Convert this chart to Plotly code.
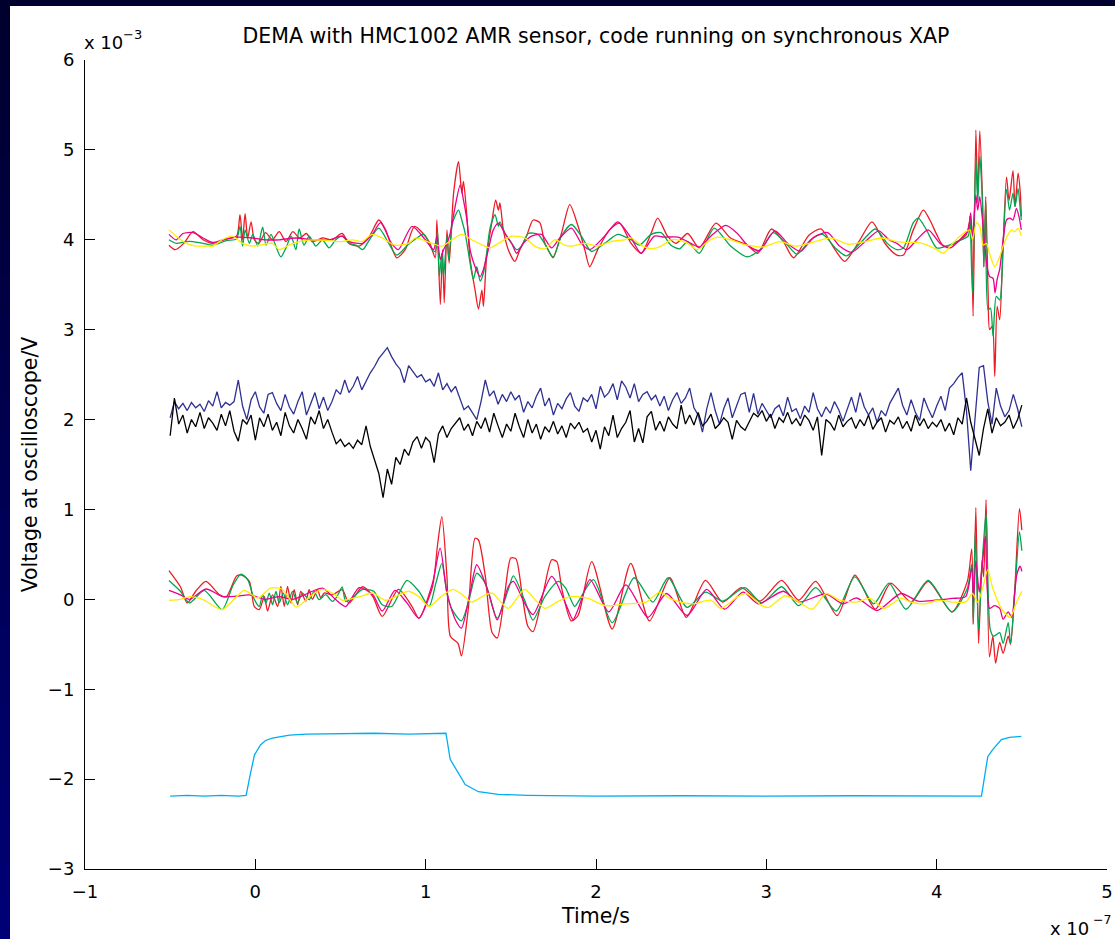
import plotly.graph_objects as go

# ---------------- data (x in units of 1e-7 s, y in units of 1e-3 V) ----------------
noise_time = [round(-0.5 + 0.025 * i, 3) for i in range(201)]

blue_vals = [
    2.02, 2.20, 2.12, 2.18, 2.10, 2.19, 2.13, 2.17, 2.09, 2.21,
    2.15, 2.31, 2.13, 2.19, 2.16, 2.20, 2.44, 2.15, 2.00, 2.22,
    2.31, 2.14, 2.07, 2.28, 2.30, 2.18, 2.10, 2.28, 2.14, 2.06,
    2.20, 2.31, 2.05, 2.17, 2.30, 2.12, 2.25, 2.10, 2.20, 2.33,
    2.28, 2.44, 2.30, 2.37, 2.48, 2.33, 2.42, 2.52, 2.59, 2.68,
    2.74, 2.80, 2.70, 2.62, 2.56, 2.41, 2.60, 2.53, 2.47, 2.50,
    2.42, 2.45, 2.37, 2.52, 2.33, 2.40, 2.31, 2.37, 2.24, 2.11,
    2.15, 2.08, 2.00, 2.20, 2.44, 2.26, 2.32, 2.17, 2.28, 2.20,
    2.31, 2.22, 2.27, 2.08, 2.20, 2.13, 2.26, 2.35, 2.15, 2.24,
    2.05, 2.18, 2.12, 2.23, 2.30, 2.15, 2.09, 2.24, 2.20, 2.28,
    2.12, 2.37, 2.25, 2.30, 2.40, 2.22, 2.43, 2.36, 2.24, 2.40,
    2.20, 2.28, 2.31, 2.22, 2.27, 2.15, 2.26, 2.10, 2.22, 2.30,
    2.18, 2.24, 2.35, 2.13, 2.05, 1.86, 2.12, 2.30, 2.10, 1.95,
    2.12, 2.24, 2.02, 2.15, 2.28, 2.30, 2.08, 2.29, 2.06, 2.18,
    2.10, 2.02, 2.12, 2.16, 2.04, 2.25, 2.09, 2.12, 2.01, 2.15,
    2.08, 2.30, 2.12, 2.03, 2.14, 2.07, 2.20, 2.11, 1.98, 2.12,
    2.25, 2.08, 2.30, 2.14, 2.05, 2.13, 1.97, 2.10, 2.04, 2.18,
    2.27, 2.35, 2.16, 2.05, 2.22, 2.08, 1.99, 2.24, 2.12, 2.02,
    2.15, 2.26, 2.10, 2.35, 2.40, 2.47, 2.52, 2.10, 1.43, 2.00,
    2.58, 2.60, 2.20, 1.95, 2.35, 2.15, 2.03, 2.10, 2.28, 2.12,
    1.92,
]

black_vals = [
    1.82, 2.24, 1.95, 2.05, 1.85, 2.00, 1.92, 2.08, 1.90, 2.02,
    1.96, 1.88, 2.06, 1.93, 2.10, 1.87, 1.76, 2.00, 1.95, 2.05,
    1.77, 2.02, 1.92, 2.06, 1.88, 1.97, 1.82, 2.08, 1.93, 1.85,
    2.00, 1.90, 1.78, 2.03, 1.95, 2.10, 1.90, 2.00, 1.86, 1.73,
    1.78, 1.70, 1.74, 1.68, 1.77, 1.72, 1.93, 1.70, 1.55, 1.40,
    1.13, 1.45, 1.28, 1.58, 1.50, 1.67, 1.60, 1.75, 1.81, 1.68,
    1.80, 1.75, 1.52, 1.84, 1.93, 1.80, 1.90, 1.96, 2.02, 1.88,
    1.95, 1.82, 1.98, 1.90, 2.02, 1.86, 2.07, 1.93, 1.80, 1.95,
    1.87, 2.07, 1.92, 1.80, 2.00, 1.85, 1.95, 1.78, 1.92, 1.86,
    1.98, 1.84, 1.93, 1.80, 1.96, 1.90, 1.97, 1.86, 1.90, 1.75,
    1.88, 1.67, 1.92, 1.82, 2.05, 1.80, 1.90, 1.97, 2.10, 1.75,
    1.90, 1.74, 2.03, 2.09, 1.88, 1.98, 1.87, 2.03, 1.95, 1.90,
    2.16, 1.95, 2.05, 1.94, 2.08, 1.93, 1.98, 2.06, 1.90, 1.95,
    2.02, 1.97, 1.78, 1.99, 1.92, 1.88, 1.97, 2.07, 2.03, 2.10,
    1.98, 2.06, 1.90, 2.02, 1.97, 2.08, 1.95, 2.01, 1.93, 2.05,
    1.99, 1.88, 2.03, 1.60, 2.00, 1.96, 1.88, 2.05, 1.92, 1.98,
    2.02, 1.90, 2.00, 1.93, 2.05, 1.89, 1.97, 2.02, 1.86, 1.99,
    1.95, 2.03, 1.90, 1.98, 1.87, 2.05, 1.93, 2.01, 1.90, 1.97,
    1.92, 2.00, 1.87, 1.96, 1.83, 2.02, 1.95, 2.24, 1.97, 1.80,
    1.60, 1.90, 2.12, 1.85, 2.02, 1.93, 1.97, 2.05, 1.90, 2.00,
    2.16,
]

cyan_time = [-0.5, -0.4, -0.3, -0.2, -0.1, -0.054, -0.03, -0.005, 0.03, 0.06, 0.1, 0.15,
             0.2, 0.3, 0.5, 0.7, 0.9, 1.05, 1.119, 1.144, 1.18, 1.232, 1.31, 1.427, 1.6,
             2.0, 2.5, 3.0, 3.5, 4.0, 4.2, 4.263, 4.30, 4.33, 4.38, 4.427, 4.497]
cyan_vals = [-2.19, -2.18, -2.19, -2.18, -2.19, -2.18, -1.95, -1.73, -1.62, -1.57, -1.545, -1.525,
             -1.51, -1.5, -1.495, -1.49, -1.5, -1.49, -1.49, -1.78, -1.9, -2.06, -2.14, -2.17, -2.18,
             -2.19, -2.185, -2.19, -2.185, -2.19, -2.185, -2.19, -1.75, -1.67, -1.56, -1.535, -1.525]

# lower group (around 0)
low_red_time = [-0.507, -0.44, -0.40, -0.35, -0.29, -0.21, -0.17, -0.11, -0.08, -0.035,
                -0.006, 0.023, 0.053, 0.072, 0.101, 0.131, 0.15, 0.17, 0.189, 0.209,
                0.228, 0.248, 0.267, 0.296, 0.316, 0.335, 0.365, 0.384, 0.404, 0.452,
                0.51, 0.55, 0.63, 0.69, 0.745, 0.84, 0.92, 0.96,
                1.04, 1.07, 1.095, 1.125, 1.145, 1.19, 1.21, 1.25, 1.29, 1.31, 1.35, 1.39, 1.42,
                1.465, 1.50, 1.53, 1.565, 1.60, 1.63, 1.69, 1.74, 1.77, 1.80, 1.855, 1.895, 1.975,
                2.095, 2.204, 2.314, 2.434, 2.53, 2.643, 2.743, 2.853, 2.963, 3.09, 3.19, 3.29, 3.416,
                3.52, 3.64, 3.73, 3.85, 3.95, 4.09, 4.18, 4.206, 4.214, 4.23, 4.246, 4.266, 4.276,
                4.29, 4.31, 4.33, 4.346, 4.37, 4.39, 4.42, 4.434, 4.46, 4.486, 4.5]
low_red_vals = [0.32, 0.14, -0.04, 0.09, 0.20, 0.05, 0.03, 0.26, 0.27, 0.20,
                -0.08, -0.115, 0.03, -0.13, 0.05, -0.08, 0.144, -0.078, 0.144, -0.04,
                0.107, -0.06, 0.089, -0.02, 0.107, 0.0, 0.107, 0.015, 0.07, 0.05,
                0.107, -0.04, 0.14, 0.03, -0.19, 0.11, -0.08, -0.21,
                0.14, 0.61, 0.92, 0.25, -0.41, -0.49, -0.63, -0.11, 0.68, 0.66, 0.26, -0.37, -0.43,
                0.07, 0.46, 0.45, 0.07, -0.30, -0.36, 0.07, 0.44, 0.42, 0.11, -0.24, -0.18, 0.42,
                -0.33, 0.40, -0.24, 0.24, -0.20, 0.21, -0.03, 0.13, -0.02, 0.21, -0.01, 0.20, -0.18,
                0.27, -0.11, 0.18, -0.03, 0.20, -0.14, 0.20, 0.56, -0.28, 1.02, -0.49, 0.43, 0.25,
                1.11, -0.64, -0.41, -0.71, -0.48, -0.60, -0.41, -0.50, 0.16, 1.01, 0.77]

low_green_time = [-0.507, -0.44, -0.386, -0.30, -0.195, -0.13, -0.084, -0.045, -0.006, 0.023,
                  0.043, 0.062, 0.082, 0.101, 0.121, 0.14, 0.164, 0.189, 0.218, 0.248,
                  0.277, 0.316, 0.345, 0.374, 0.413, 0.452, 0.48, 0.51, 0.53, 0.569,
                  0.63, 0.695, 0.745, 0.80, 0.89, 0.96, 1.02,
                  1.06, 1.095, 1.125, 1.155, 1.21, 1.25, 1.30, 1.35, 1.42, 1.485, 1.515, 1.58, 1.63,
                  1.70, 1.78, 1.82, 1.875, 1.895, 1.985, 2.095, 2.224, 2.334, 2.424, 2.534, 2.643,
                  2.743, 2.873, 2.973, 3.09, 3.19, 3.29, 3.41, 3.52, 3.63, 3.72, 3.82, 3.95, 4.09, 4.18,
                  4.206, 4.216, 4.226, 4.246, 4.266, 4.29, 4.314, 4.334, 4.37, 4.39, 4.42, 4.434, 4.46,
                  4.486, 4.5]
low_green_vals = [0.21, 0.09, -0.04, 0.10, -0.115, 0.16, 0.28, 0.22, 0.0, -0.078,
                  0.052, -0.04, 0.07, -0.06, 0.089, -0.04, 0.07, -0.06, 0.089, -0.04,
                  0.07, -0.004, 0.089, -0.004, 0.052, -0.022, 0.033, 0.137, -0.022, 0.015,
                  0.11, 0.09, -0.06, -0.08, 0.21, 0.09, -0.08,
                  0.18, 0.40, 0.07, -0.115, -0.24, -0.04, 0.29, 0.18, -0.21, 0.11, 0.26, -0.005, -0.23,
                  0.03, 0.20, 0.13, -0.08, -0.03, 0.22, -0.26, 0.24, -0.03, 0.24, -0.09, 0.08,
                  -0.02, 0.13, -0.04, 0.14, -0.07, 0.13, -0.13, 0.25, -0.05, 0.18, -0.11, 0.21, -0.14, 0.12,
                  0.39, -0.26, 0.75, -0.33, 0.37, 0.96, -0.33, -0.41, -0.37, -0.49, -0.26, -0.49, 0.12,
                  0.75, 0.54]

low_magenta_time = [-0.507, -0.44, -0.386, -0.29, -0.19, -0.11, -0.035, 0.06, 0.14, 0.22, 0.335, 0.395,
                    0.47, 0.53, 0.61, 0.69, 0.745, 0.82, 0.89, 0.96, 1.04, 1.085, 1.125, 1.175, 1.21,
                    1.26, 1.30, 1.37, 1.42, 1.485, 1.515, 1.58, 1.63, 1.74, 1.82, 1.865, 1.895, 1.965,
                    2.075, 2.175, 2.305, 2.414, 2.534, 2.65, 2.755, 2.863, 2.953, 3.10, 3.19, 3.35, 3.45,
                    3.53, 3.65, 3.79, 3.89, 3.99, 4.09, 4.17, 4.206, 4.216, 4.23, 4.25, 4.266, 4.286,
                    4.31, 4.34, 4.37, 4.39, 4.42, 4.44, 4.47, 4.49, 4.5]
low_magenta_vals = [0.10, 0.05, 0.0, 0.115, 0.03, 0.035, 0.05, 0.0, 0.03, 0.0, 0.09, 0.125,
                    0.0, -0.08, 0.13, 0.05, -0.13, 0.10, -0.04, -0.21, 0.18, 0.57, 0.07, -0.23, -0.32,
                    0.07, 0.385, 0.07, -0.23, 0.14, 0.20, -0.04, -0.17, 0.255, -0.04, -0.225, -0.11, 0.22,
                    -0.14, 0.16, -0.20, 0.065, -0.18, 0.11, -0.11, 0.08, -0.05, 0.09, -0.03, 0.06, -0.05,
                    0.015, -0.125, 0.065, -0.02, -0.01, 0.01, 0.03, 0.35, -0.03, 0.43, 0.08, 0.35, 0.70,
                    -0.10, -0.07, -0.10, -0.22, -0.14, -0.20, 0.27, 0.37, 0.31]

low_yellow_time = [-0.507, -0.44, -0.386, -0.31, -0.195, -0.11, -0.064, 0.015, 0.09, 0.16, 0.24, 0.32,
                   0.39, 0.47, 0.51, 0.61, 0.69, 0.765, 0.90, 0.96, 1.02, 1.09, 1.16, 1.21, 1.27, 1.34,
                   1.39, 1.485, 1.58, 1.65, 1.70, 1.78, 1.855, 1.895, 1.955, 2.055, 2.175, 2.295, 2.374,
                   2.434, 2.494, 2.574, 2.673, 2.733, 2.833, 2.883, 2.973, 3.013, 3.11, 3.172, 3.27, 3.35,
                   3.43, 3.53, 3.61, 3.69, 3.79, 3.85, 3.93, 4.01, 4.09, 4.17, 4.21, 4.24, 4.27, 4.30,
                   4.33, 4.38, 4.43, 4.47, 4.5]
low_yellow_vals = [-0.01, 0.0, 0.03, 0.0, -0.115, 0.03, 0.10, 0.015, 0.125, 0.11, -0.085, 0.03,
                   0.11, 0.05, -0.01, 0.03, 0.07, -0.01, 0.09, 0.03, -0.08, 0.03, 0.11, 0.06, -0.03, 0.04,
                   0.07, -0.10, 0.11, -0.02, -0.10, -0.02, 0.03, 0.03, 0.01, -0.07, -0.05, -0.03, 0.08,
                   0.01, -0.03, -0.05, -0.01, -0.10, 0.03, 0.065, -0.07, -0.09, 0.04, -0.01, -0.11, 0.065,
                   -0.01, -0.03, 0.01, -0.10, 0.01, -0.03, -0.05, -0.01, -0.03, -0.03, 0.065, -0.03, 0.12, 0.33,
                   0.12, -0.10, -0.20, -0.03, 0.09]

# upper group (around 4)
up_red_time = [-0.507, -0.47, -0.42, -0.366, -0.307, -0.25, -0.17, -0.11, -0.09, -0.075, -0.06, -0.045,
               -0.025, -0.006, 0.02, 0.06, 0.10, 0.14, 0.18, 0.22, 0.26, 0.30, 0.335, 0.395, 0.45, 0.51,
               0.55, 0.61, 0.67, 0.725, 0.765, 0.83, 0.88, 0.935, 1.02, 1.056, 1.066, 1.086, 1.099,
               1.109, 1.125, 1.138, 1.164, 1.193, 1.212, 1.222, 1.242, 1.261, 1.29, 1.31, 1.33, 1.339,
               1.358, 1.388, 1.411, 1.427, 1.436, 1.456, 1.485, 1.524, 1.553, 1.592, 1.631, 1.67, 1.70,
               1.748, 1.797, 1.846, 1.895, 1.934, 1.963, 2.01, 2.08, 2.138, 2.206, 2.265, 2.323, 2.362,
               2.42, 2.47, 2.538, 2.606, 2.704, 2.79, 2.889, 2.95, 3.03, 3.10, 3.16, 3.25, 3.32, 3.40,
               3.46, 3.55, 3.62, 3.70, 3.766, 3.805, 3.863, 3.922, 3.96, 4.0, 4.04, 4.1, 4.175, 4.195,
               4.205, 4.214, 4.23, 4.241, 4.253, 4.269, 4.277, 4.288, 4.302, 4.311, 4.327, 4.341, 4.355,
               4.37, 4.386, 4.41, 4.425, 4.448, 4.46, 4.478, 4.491, 4.497]
up_red_vals = [3.94, 3.89, 3.96, 4.09, 4.0, 3.96, 4.01, 4.04, 4.28, 4.0, 4.29, 4.02,
               4.2, 4.0, 3.96, 4.08, 4.0, 4.09, 3.98, 4.09, 4.02, 4.07, 3.98, 4.02, 4.0, 4.07,
               3.96, 3.93, 4.04, 4.22, 4.11, 3.80, 3.89, 4.15, 3.98, 3.80, 4.22, 3.28, 3.89,
               3.30, 4.11, 3.74, 4.52, 4.87, 4.52, 4.65, 4.26, 3.78, 3.44, 3.23, 3.44, 3.26,
               3.81, 4.19, 4.44, 4.33, 4.41, 4.11, 3.89, 3.76, 3.89, 4.04, 4.22, 4.19, 3.96,
               3.81, 4.07, 4.39, 4.15, 3.89, 3.70, 3.89, 4.11, 4.185, 3.96, 3.85, 4.07, 4.24,
               4.04, 3.96, 4.07, 3.91, 4.185, 4.02, 3.94, 3.85, 4.12, 3.98, 3.80, 4.05, 4.12, 3.90,
               3.76, 4.0, 4.20, 3.95, 3.83, 3.83, 4.11, 4.33, 4.22, 4.06, 3.93, 3.95, 4.06, 4.22,
               4.0, 3.15, 5.22, 4.48, 5.21, 4.44, 3.70, 4.48, 3.41, 3.0, 3.04, 2.48, 3.26,
               3.11, 3.74, 4.70, 4.44, 4.77, 4.37, 4.74, 4.52, 4.26]

up_green_time = [-0.507, -0.465, -0.405, -0.366, -0.307, -0.25, -0.17, -0.11, -0.09, -0.075, -0.06, -0.035,
                 -0.015, 0.014, 0.043, 0.063, 0.092, 0.12, 0.15, 0.18, 0.21, 0.238, 0.257, 0.286, 0.316,
                 0.355, 0.394, 0.433, 0.472, 0.51, 0.55, 0.59, 0.63, 0.67, 0.725, 0.783, 0.83, 0.90,
                 0.99, 1.037, 1.056, 1.07, 1.08, 1.095, 1.105, 1.125, 1.135, 1.158, 1.193, 1.212, 1.232,
                 1.261, 1.28, 1.30, 1.32, 1.339, 1.358, 1.378, 1.407, 1.427, 1.436, 1.466, 1.505, 1.534,
                 1.563, 1.602, 1.66, 1.719, 1.748, 1.797, 1.856, 1.914, 1.973, 2.05, 2.128, 2.206, 2.255,
                 2.323, 2.382, 2.44, 2.49, 2.538, 2.606, 2.694, 2.79, 2.889, 2.97, 3.04, 3.12, 3.18, 3.26,
                 3.33, 3.41, 3.47, 3.56, 3.64, 3.71, 3.766, 3.805, 3.863, 3.893, 3.94, 4.0, 4.06, 4.117,
                 4.185, 4.195, 4.21, 4.23, 4.241, 4.253, 4.269, 4.277, 4.288, 4.302, 4.316, 4.331, 4.35,
                 4.37, 4.39, 4.41, 4.428, 4.448, 4.46, 4.478, 4.491, 4.497]
up_green_vals = [4.0, 3.96, 3.98, 3.98, 3.96, 3.94, 3.99, 4.01, 4.15, 3.93, 4.11, 3.96,
                 4.06, 3.93, 4.14, 3.94, 4.06, 3.93, 3.81, 3.91, 4.04, 3.89, 4.12, 3.94, 4.04,
                 3.93, 4.0, 3.91, 4.0, 4.04, 3.96, 3.94, 3.89, 4.0, 4.13, 3.96, 3.83, 3.95,
                 4.06, 3.89, 3.87, 4.09, 3.59, 3.85, 3.59, 4.04, 3.78, 4.19, 4.33, 4.22, 4.07,
                 3.74, 3.56, 3.70, 3.54, 3.63, 3.85, 4.13, 4.28, 4.15, 4.20, 4.07, 3.96, 3.89,
                 3.93, 4.07, 4.06, 3.89, 3.80, 4.04, 4.17, 4.04, 3.87, 3.96, 4.06, 4.0, 3.94,
                 4.06, 4.08, 3.94, 3.90, 3.98, 3.85, 4.13, 3.93, 3.81, 3.90, 4.08, 3.95, 3.84, 4.0,
                 4.06, 3.90, 3.82, 3.98, 4.12, 3.96, 3.89, 3.91, 4.19, 4.24, 4.11, 3.91, 3.93, 3.98,
                 4.04, 4.26, 3.41, 4.91, 4.41, 4.93, 4.41, 3.70, 4.41, 3.22, 3.24, 2.93, 3.37,
                 3.33, 3.93, 4.56, 4.33, 4.52, 4.37, 4.57, 4.33, 4.22]

up_magenta_time = [-0.507, -0.465, -0.425, -0.366, -0.307, -0.25, -0.19, -0.11, -0.016, 0.06, 0.14, 0.237,
                   0.335, 0.433, 0.51, 0.55, 0.63, 0.69, 0.735, 0.80, 0.84, 0.92, 0.998, 1.047, 1.066,
                   1.086, 1.105, 1.125, 1.144, 1.173, 1.203, 1.222, 1.242, 1.261, 1.29, 1.32, 1.339,
                   1.368, 1.397, 1.427, 1.466, 1.505, 1.534, 1.573, 1.622, 1.68, 1.739, 1.787, 1.856,
                   1.914, 1.963, 2.05, 2.128, 2.206, 2.265, 2.343, 2.40, 2.48, 2.538, 2.606, 2.674, 2.762,
                   2.83, 2.889, 2.96, 3.05, 3.13, 3.20, 3.28, 3.36, 3.43, 3.50, 3.58, 3.66, 3.72, 3.766,
                   3.825, 3.883, 3.95, 4.02, 4.08, 4.136, 4.185, 4.20, 4.21, 4.23, 4.241, 4.253, 4.269,
                   4.283, 4.296, 4.311, 4.331, 4.343, 4.355, 4.37, 4.39, 4.41, 4.43, 4.448, 4.468, 4.483,
                   4.497]
up_magenta_vals = [4.06, 4.0, 4.07, 4.08, 4.02, 3.97, 4.0, 4.03, 4.02, 4.0, 4.0, 4.02,
                   4.0, 4.0, 4.04, 3.98, 3.96, 4.07, 4.19, 3.96, 3.89, 4.15, 4.0, 3.89, 4.04,
                   3.78, 3.89, 3.96, 4.07, 4.37, 4.61, 4.44, 4.22, 3.89, 3.70, 3.59, 3.67,
                   3.89, 4.11, 4.185, 4.07, 3.96, 3.85, 3.96, 4.04, 4.06, 3.91, 4.02, 4.13,
                   3.96, 3.89, 4.04, 4.20, 4.02, 3.85, 4.04, 4.03, 4.03, 3.98, 3.92, 4.04, 4.16,
                   4.07, 3.94, 3.88, 4.10, 3.95, 3.87, 4.03, 4.08, 3.93, 3.86, 3.98, 4.10, 4.0, 3.96,
                   3.89, 4.0, 4.11, 3.96, 3.91, 4.0, 4.11, 4.30, 4.0, 4.50, 4.33, 4.48, 4.22,
                   3.93, 3.70, 3.59, 3.57, 3.41, 3.56, 3.67, 4.0, 4.22, 4.24, 4.22, 4.35, 4.26,
                   4.11]

up_yellow_time = [-0.507, -0.465, -0.405, -0.347, -0.29, -0.25, -0.195, -0.135, -0.075, -0.016, 0.023, 0.10,
                  0.14, 0.198, 0.257, 0.335, 0.433, 0.51, 0.57, 0.627, 0.686, 0.745, 0.82, 0.90, 0.94,
                  1.037, 1.095, 1.154, 1.212, 1.27, 1.348, 1.378, 1.427, 1.505, 1.583, 1.64, 1.70, 1.758,
                  1.817, 1.856, 1.934, 2.01, 2.09, 2.167, 2.206, 2.265, 2.323, 2.382, 2.44, 2.48, 2.538,
                  2.596, 2.655, 2.713, 2.79, 2.85, 2.889, 2.98, 3.08, 3.17, 3.27, 3.38, 3.48, 3.58, 3.68,
                  3.766, 3.844, 3.883, 3.96, 4.0, 4.04, 4.08, 4.136, 4.195, 4.21, 4.234, 4.253, 4.273,
                  4.292, 4.31, 4.341, 4.37, 4.39, 4.42, 4.44, 4.458, 4.478, 4.497]
up_yellow_vals = [4.11, 4.04, 3.96, 3.93, 3.93, 3.93, 4.0, 4.04, 3.96, 3.93, 3.94, 3.96,
                  3.89, 3.94, 3.98, 4.0, 3.99, 3.98, 4.0, 3.98, 4.06, 4.02, 3.94, 3.96, 4.02,
                  3.96, 3.93, 4.0, 4.06, 4.0, 3.93, 3.91, 3.96, 4.04, 4.02, 3.93, 3.90, 4.0,
                  3.94, 3.93, 3.96, 3.93, 3.98, 4.0, 4.02, 3.94, 3.90, 3.93, 4.0, 4.0, 3.96,
                  3.89, 3.98, 4.03, 4.0, 3.96, 3.94, 3.92, 3.98, 3.93, 3.97, 4.02, 3.95, 3.98, 4.02,
                  3.98, 3.97, 3.97, 3.93, 3.89, 3.85, 3.93, 4.04, 4.11, 4.0, 4.19, 4.15, 3.94,
                  3.96, 3.85, 3.70, 3.81, 3.93, 4.06, 4.11, 4.09, 4.13, 4.04]

x_ticks = [-1, 0, 1, 2, 3, 4, 5]
y_ticks = [-3, -2, -1, 0, 1, 2, 3, 4, 5, 6]

title_text = "DEMA with HMC1002 AMR sensor, code running on synchronous XAP"
x_title = "Time/s"
y_title = "Voltage at oscilloscope/V"
y_mult_base, y_mult_exp = "x 10", "\u22123"
x_mult_base, x_mult_exp = "x 10", "\u22127"

# ---------------- figure ----------------
RED = "#ED1C24"
GREEN = "#00A651"
MAGENTA = "#EC008C"
YELLOW = "#FFEC00"
NAVY = "#2E3192"
CYAN = "#00AEEF"
LW = 1.3

fig = go.Figure()


def add(x, y, color, spline=True):
    fig.add_trace(go.Scatter(
        x=x, y=y, mode="lines",
        line=dict(color=color, width=LW,
                  shape="spline" if spline else "linear", smoothing=0.7),
        hoverinfo="skip", showlegend=False))


add(up_red_time, up_red_vals, RED)
add(up_green_time, up_green_vals, GREEN)
add(up_magenta_time, up_magenta_vals, MAGENTA)
add(up_yellow_time, up_yellow_vals, YELLOW)
add(noise_time, blue_vals, NAVY, spline=False)
add(noise_time, black_vals, "#000000", spline=False)
add(low_red_time, low_red_vals, RED)
add(low_green_time, low_green_vals, GREEN)
add(low_magenta_time, low_magenta_vals, MAGENTA)
add(low_yellow_time, low_yellow_vals, YELLOW)
add(cyan_time, cyan_vals, CYAN, spline=False)

W, H = 1115, 939
L, R, T, B = 85, 8, 60, 70
PW, PH = W - L - R, H - T - B


def px(xp):
    return (xp - L) / PW


def py(yp):
    return (H - B - yp) / PH


shapes = []
# dark top strip
shapes.append(dict(type="rect", xref="paper", yref="paper", layer="below",
                   x0=px(-5), x1=px(W + 5), y0=py(6), y1=py(-5),
                   line=dict(width=0), fillcolor="#00002E"))
# left strip with vertical gradient
n_bands = 24
for i in range(n_bands):
    y_top = i * H / n_bands
    y_bot = (i + 1) * H / n_bands + 1
    b = int(46 + (118 - 46) * i / (n_bands - 1))
    shapes.append(dict(type="rect", xref="paper", yref="paper", layer="below",
                       x0=px(-5), x1=px(10), y0=py(y_bot), y1=py(y_top),
                       line=dict(width=0), fillcolor=f"rgb(0,0,{b})"))

FONT = "DejaVu Sans, Liberation Sans, sans-serif"
TXT = 20.5


def note(text, x, y, xa, ya, size):
    return dict(text=text, xref="paper", yref="paper", x=px(x), y=py(y),
                xanchor=xa, yanchor=ya, showarrow=False,
                font=dict(size=size, color="black", family=FONT))


annotations = [
    note(y_mult_base, 82, 42, "left", "middle", 18),
    note(y_mult_exp, 121, 34, "left", "middle", 13),
    note(x_mult_base, 1091, 928, "right", "middle", 18),
    note(x_mult_exp, 1091, 919, "left", "middle", 12.5),
]

axis_common = dict(showgrid=False, zeroline=False, showline=True, linecolor="black",
                   linewidth=1, ticks="inside", ticklen=10, tickcolor="black", tickwidth=1,
                   tickfont=dict(size=18, color="black", family=FONT), mirror=False,
                   ticklabeloverflow="allow")

fig.update_layout(
    width=W, height=H,
    margin=dict(l=L, r=R, t=T, b=B, autoexpand=False),
    paper_bgcolor="white", plot_bgcolor="white",
    showlegend=False,
    title=dict(text=title_text, x=0.5, xref="paper", xanchor="center",
               y=1 - 36 / H, yref="container", yanchor="middle",
               font=dict(size=TXT, color="black", family=FONT)),
    xaxis=dict(range=[-1, 5], tickvals=x_ticks, ticklabelstandoff=6,
               title=dict(text=x_title, standoff=8,
                          font=dict(size=TXT, color="black", family=FONT)),
               automargin=False, **axis_common),
    yaxis=dict(range=[-3, 6], tickvals=y_ticks, ticklabelstandoff=6,
               title=dict(text=y_title, standoff=4,
                          font=dict(size=TXT, color="black", family=FONT)),
               automargin=False, **axis_common),
    shapes=shapes,
    annotations=annotations,
)

fig.write_html("out.html", config={"displayModeBar": False})
